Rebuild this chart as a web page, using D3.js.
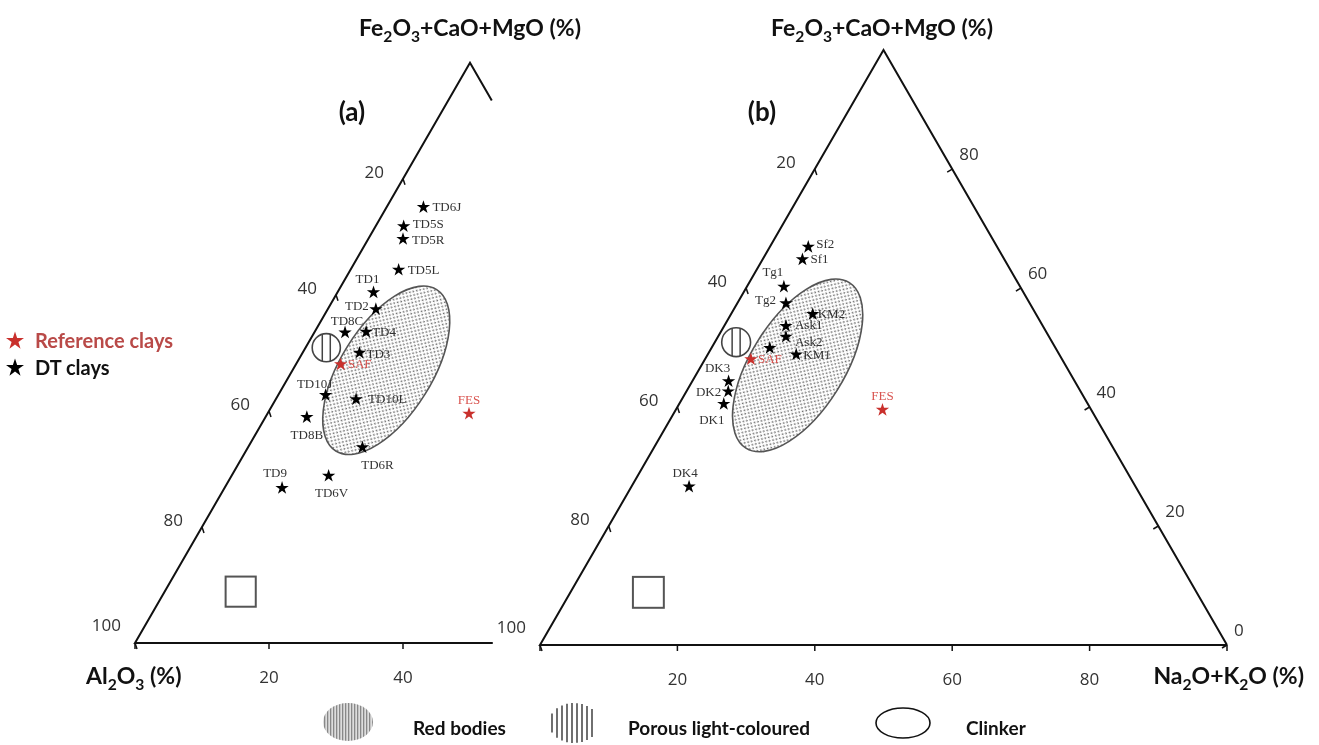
<!DOCTYPE html>
<html>
<head>
<meta charset="utf-8">
<script src="https://cdn.jsdelivr.net/npm/d3@7"></script>
<style>
  body { margin: 0; background: #fff; }
  svg { display: block; will-change: transform; }
  .title { font-family: Lato, 'Open Sans', sans-serif; font-weight: 700; fill: #111; }
  .tick-label { font-family: 'Open Sans', sans-serif; font-size: 17px; fill: #333; }
  .pt-label { font-family: 'Liberation Serif', serif; font-size: 13px; fill: #333; }
</style>
</head>
<body>
<svg id="chart" width="1319" height="745"></svg>
<script>
// Tick values on the three sides
const tickValues = [20, 40, 60, 80];

// Panel (a) DT clays, composition in % : Al2O3, Fe2O3+CaO+MgO, Na2O+K2O
const namesA = ['TD6J', 'TD5S', 'TD5R', 'TD5L', 'TD1', 'TD2', 'TD8C', 'TD4', 'TD3', 'TD10J', 'TD10L', 'TD8B', 'TD6R', 'TD9', 'TD6V'];
const alA  = [19.4, 24.0, 25.2, 28.5, 34.2, 35.3, 41.9, 38.7, 41.5, 50.2, 46.0, 54.9, 49.2, 64.7, 56.7];
const feA  = [75.1, 71.8, 69.6, 64.3, 60.4, 57.5, 53.5, 53.6, 50.0, 42.7, 42.0, 38.9, 33.7, 26.7, 28.8];
const alkA = [5.5, 4.2, 5.2, 7.2, 5.4, 7.2, 4.6, 7.7, 8.5, 7.1, 12.0, 6.2, 17.1, 8.6, 14.5];

// Panel (b) DT clays
const namesB = ['Sf2', 'Sf1', 'Tg1', 'Tg2', 'KM2', 'Ask1', 'Ask2', '', 'KM1', 'DK3', 'DK2', 'DK1', 'DK4'];
const alB  = [27.5, 29.4, 34.4, 35.5, 32.5, 37.4, 38.3, 41.6, 38.3, 50.4, 51.3, 53.0, 65.0];
const feB  = [66.9, 64.8, 60.2, 57.4, 55.6, 53.6, 51.8, 49.9, 48.8, 44.3, 42.6, 40.5, 26.6];
const alkB = [5.6, 5.8, 5.4, 7.1, 11.9, 9.0, 9.9, 8.5, 12.9, 5.3, 6.1, 6.5, 8.4];

// Reference clays (both panels)
const refNames = ['SAF', 'FES'];
const refAl  = [45.3, 30.4];
const refFe  = [48.0, 39.5];
const refAlk = [6.7, 30.1];

// Product fields (centres)
const fieldNames = ['Red bodies', 'Porous light-coloured', 'Clinker'];
const fieldFe  = [47.0, 50.9, 8.85];
const fieldAlk = [14.0, 3.1, 11.35];

// label placement [dx, dy, anchor]
const labelPos = {
  TD6J: [9, 4, 'start'], TD5S: [9, 2, 'start'], TD5R: [9, 5, 'start'], TD5L: [9, 4, 'start'],
  TD1: [-6, -10, 'middle'], TD2: [-7, 1, 'end'], TD8C: [2, -8, 'middle'], TD4: [6, 4, 'start'],
  TD3: [7, 5, 'start'], TD10J: [-11, -7, 'middle'], TD10L: [12, 4, 'start'], TD8B: [0, 22, 'middle'],
  TD6R: [15, 22, 'middle'], TD9: [-7, -11, 'middle'], TD6V: [3, 21, 'middle'],
  Sf2: [8, 1, 'start'], Sf1: [8, 4, 'start'], Tg1: [-11, -11, 'middle'], Tg2: [-10, 1, 'end'],
  KM2: [5, 4, 'start'], Ask1: [9, 3, 'start'], Ask2: [9, 9, 'start'], KM1: [7, 4, 'start'],
  DK3: [-11, -9, 'middle'], DK2: [-7, 4, 'end'], DK1: [-12, 20, 'middle'], DK4: [-4, -10, 'middle'],
  SAF: [7, 4, 'start'], FES: [0, -10, 'middle']
};

const svg = d3.select('#chart');
const defs = svg.append('defs');

// dotted fill for red bodies
const dots = defs.append('pattern').attr('id', 'dots')
  .attr('width', 5).attr('height', 5).attr('patternUnits', 'userSpaceOnUse');
dots.append('circle').attr('cx', 1.2).attr('cy', 1.2).attr('r', 0.85).attr('fill', '#666');
dots.append('circle').attr('cx', 3.7).attr('cy', 3.7).attr('r', 0.85).attr('fill', '#666');

// vertical stripes for the legend blob
const stripes = defs.append('pattern').attr('id', 'stripes')
  .attr('width', 3).attr('height', 3).attr('patternUnits', 'userSpaceOnUse');
stripes.append('rect').attr('width', 3).attr('height', 3).attr('fill', '#ddd');
stripes.append('rect').attr('width', 1.3).attr('height', 3).attr('fill', '#888');

// write text with chemical subscripts
function chemText(sel, parts, shift) {
  let down = false;
  parts.forEach(p => {
    const ts = sel.append('tspan').text(p[0]);
    if (p[1]) {
      ts.attr('dy', shift).style('font-size', '0.68em');
      down = true;
    } else if (down) {
      ts.attr('dy', -shift);
      down = false;
    }
  });
}
const feTitle = [['Fe'], ['2', 1], ['O'], ['3', 1], ['+CaO+MgO (%)']];

const panels = [
  { id: '(a)', x0: 135, y0: 643, side: 670, cut: true, names: namesA, al: alA, fe: feA, alk: alkA,
    title: [470, 36], tag: [352, 121] },
  { id: '(b)', x0: 540, y0: 645, side: 687, cut: false, names: namesB, al: alB, fe: feB, alk: alkB,
    title: [882, 36], tag: [762, 121] }
];

panels.forEach(p => {
  const h = p.side * Math.sqrt(3) / 2;
  const x = d3.scaleLinear().domain([0, 100]).range([p.x0, p.x0 + p.side]);
  const y = d3.scaleLinear().domain([0, 100]).range([p.y0, p.y0 - h]);
  // ternary (fe, alk) -> pixel
  const proj = (fe, alk) => [x(alk + fe / 2), y(fe)];
  const g = svg.append('g');

  // triangle outline
  let outline;
  if (p.cut) {
    outline = [proj(0, 53.4), proj(0, 0), proj(100, 0), proj(93.5, 6.5)];
  } else {
    outline = [proj(0, 100), proj(0, 0), proj(100, 0), proj(0, 100)];
  }
  g.append('path')
    .attr('d', d3.line()(outline))
    .attr('fill', 'none').attr('stroke', '#111').attr('stroke-width', 2);

  // bottom axis (Na2O+K2O)
  const bottomTicks = p.cut ? [0, 20, 40] : [0, 20, 40, 60, 80, 100];
  bottomTicks.forEach(v => {
    const [tx, ty] = proj(0, v);
    g.append('line').attr('x1', tx).attr('y1', ty).attr('x2', tx).attr('y2', ty + 6)
      .attr('stroke', '#111').attr('stroke-width', 1.5);
    if (tickValues.includes(v)) {
      g.append('text').attr('class', 'tick-label').attr('x', tx).attr('y', ty + 40)
        .attr('text-anchor', 'middle').text(v);
    }
  });

  // left axis (Al2O3)
  tickValues.concat([100]).forEach(v => {
    const [tx, ty] = proj(100 - v, 0);
    g.append('line').attr('x1', tx).attr('y1', ty).attr('x2', tx + 2).attr('y2', ty + 6)
      .attr('stroke', '#111').attr('stroke-width', 1.5);
    g.append('text').attr('class', 'tick-label')
      .attr('x', tx - (v === 100 ? 14 : 19)).attr('y', ty - (v === 100 ? 12 : 1))
      .attr('text-anchor', 'end').text(v);
  });

  // right axis (Fe2O3+CaO+MgO)
  if (!p.cut) {
    [0].concat(tickValues).forEach(v => {
      const [tx, ty] = proj(v, 100 - v);
      g.append('line').attr('x1', tx).attr('y1', ty).attr('x2', tx - 5).attr('y2', ty + 3)
        .attr('stroke', '#111').attr('stroke-width', 1.5);
      g.append('text').attr('class', 'tick-label').attr('x', tx + 7).attr('y', ty - 9)
        .attr('text-anchor', 'start').text(v);
    });
  }

  // red bodies field
  const [ex, ey] = proj(fieldFe[0], fieldAlk[0]);
  g.append('ellipse')
    .attr('cx', 0).attr('cy', 0)
    .attr('rx', p.side * 0.142).attr('ry', p.side * 0.068)
    .attr('transform', `translate(${ex},${ey}) rotate(-58)`)
    .attr('fill', 'url(#dots)').attr('stroke', '#555').attr('stroke-width', 1.6);

  // porous light-coloured field
  const [cx, cy] = proj(fieldFe[1], fieldAlk[1]);
  const r = p.side * 0.021;
  g.append('circle').attr('cx', cx).attr('cy', cy).attr('r', r)
    .attr('fill', 'none').attr('stroke', '#444').attr('stroke-width', 1.6);
  [-4, 4].forEach(dx => {
    const half = Math.sqrt(r * r - dx * dx);
    g.append('line').attr('x1', cx + dx).attr('x2', cx + dx)
      .attr('y1', cy - half).attr('y2', cy + half)
      .attr('stroke', '#444').attr('stroke-width', 1.5);
  });

  // clinker field
  const [sx, sy] = proj(fieldFe[2], fieldAlk[2]);
  const s = p.side * 0.045;
  g.append('rect').attr('x', sx - s / 2).attr('y', sy - s / 2)
    .attr('width', s).attr('height', s)
    .attr('fill', 'none').attr('stroke', '#555').attr('stroke-width', 2);

  // samples
  const star = d3.symbol(d3.symbolStar).size(55);
  const drawPoint = (name, fe, alk, color) => {
    const [px, py] = proj(fe, alk);
    g.append('path').attr('d', star).attr('transform', `translate(${px},${py})`)
      .attr('fill', color);
    if (name) {
      const lp = labelPos[name];
      g.append('text').attr('class', 'pt-label')
        .attr('x', px + lp[0]).attr('y', py + lp[1])
        .attr('text-anchor', lp[2])
        .style('fill', color === '#000' ? '#333' : '#d9534f')
        .text(name);
    }
  };
  p.names.forEach((n, i) => drawPoint(n, p.fe[i], p.alk[i], '#000'));
  refNames.forEach((n, i) => drawPoint(n, refFe[i], refAlk[i], '#c9302c'));

  // titles
  const t = g.append('text').attr('class', 'title').attr('x', p.title[0]).attr('y', p.title[1])
    .attr('text-anchor', 'middle').style('font-size', '23px');
  chemText(t, feTitle, 6);
  g.append('text').attr('class', 'title').attr('x', p.tag[0]).attr('y', p.tag[1])
    .attr('text-anchor', 'middle').style('font-size', '26px').text(p.id);
});

// corner axis names
const alName = svg.append('text').attr('class', 'title').attr('x', 86).attr('y', 684)
  .style('font-size', '23px');
chemText(alName, [['Al'], ['2', 1], ['O'], ['3', 1], [' (%)']], 6);
const naName = svg.append('text').attr('class', 'title').attr('x', 1304).attr('y', 684)
  .attr('text-anchor', 'end').style('font-size', '23px');
chemText(naName, [['Na'], ['2', 1], ['O+K'], ['2', 1], ['O (%)']], 6);

// legend for symbols
const symLegend = [['Reference clays', '#c9302c', '#b94a48'], ['DT clays', '#000', '#111']];
symLegend.forEach((d, i) => {
  svg.append('path').attr('d', d3.symbol(d3.symbolStar).size(100))
    .attr('transform', `translate(15,${341 + i * 27})`).attr('fill', d[1]);
  svg.append('text').attr('class', 'title').attr('x', 35).attr('y', 348 + i * 27)
    .style('font-size', '20px').style('fill', d[2]).text(d[0]);
});

// legend for fields
const lg = svg.append('g');
lg.append('ellipse').attr('cx', 348).attr('cy', 722).attr('rx', 25).attr('ry', 19)
  .attr('fill', 'url(#stripes)');
d3.range(-22, 23, 5).forEach(dx => {
  const half = 20 * Math.sqrt(1 - (dx / 25) * (dx / 25));
  lg.append('line').attr('x1', 574 + dx).attr('x2', 574 + dx)
    .attr('y1', 723 - half).attr('y2', 723 + half)
    .attr('stroke', '#333').attr('stroke-width', 1.4);
});
lg.append('ellipse').attr('cx', 903).attr('cy', 723).attr('rx', 27).attr('ry', 15)
  .attr('fill', 'none').attr('stroke', '#111').attr('stroke-width', 1.6);
[[413, fieldNames[0]], [628, fieldNames[1]], [966, fieldNames[2]]].forEach(d => {
  lg.append('text').attr('class', 'title').attr('x', d[0]).attr('y', 735)
    .style('font-size', '19px').text(d[1]);
});
</script>
</body>
</html>
